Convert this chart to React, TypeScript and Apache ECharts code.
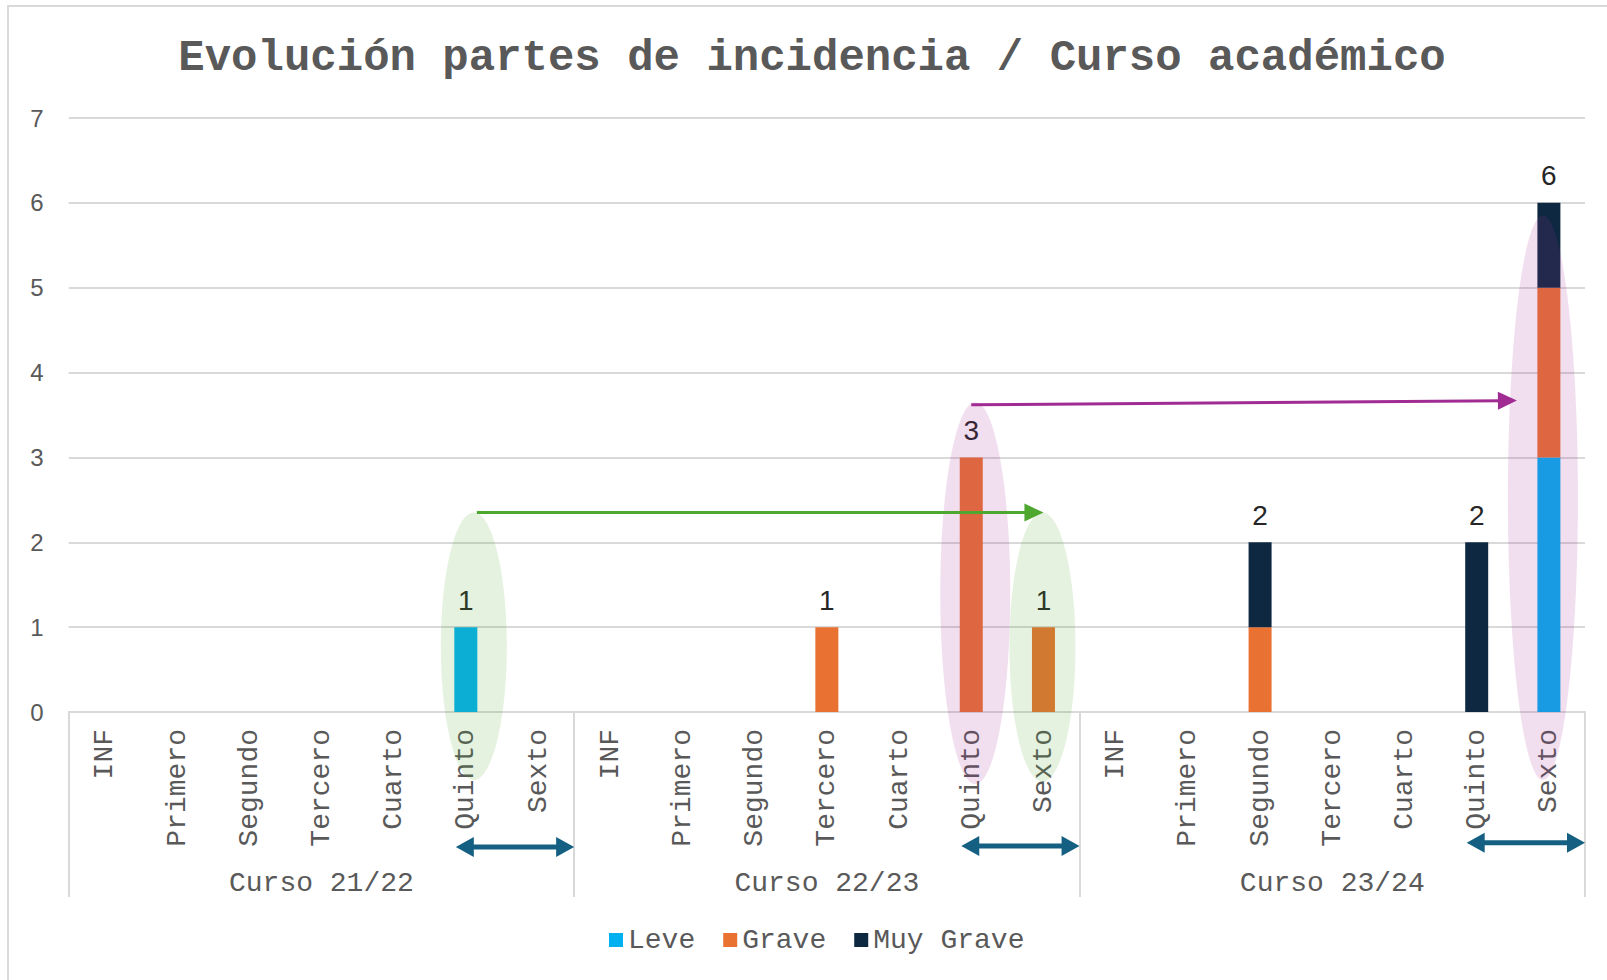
import React, { useEffect, useRef } from "react";
import * as echarts from "echarts";

// ---- data ----
const courses = ["Curso 21/22", "Curso 22/23", "Curso 23/24"];
const levels = ["INF", "Primero", "Segundo", "Tercero", "Cuarto", "Quinto", "Sexto"];
const categories = courses.flatMap(() => levels);

const leve = [0, 0, 0, 0, 0, 1, 0, 0, 0, 0, 0, 0, 0, 0, 0, 0, 0, 0, 0, 0, 3];
const grave = [0, 0, 0, 0, 0, 0, 0, 0, 0, 0, 1, 0, 3, 1, 0, 0, 1, 0, 0, 0, 2];
const muyGrave = [0, 0, 0, 0, 0, 0, 0, 0, 0, 0, 0, 0, 0, 0, 0, 0, 1, 0, 0, 2, 1];
const seriesNames = ["Leve", "Grave", "Muy Grave"];
const yMax = 7;

const totals = categories.map((_, i) => leve[i] + grave[i] + muyGrave[i]);

// ---- styles ----
const MONO = "'Liberation Mono', 'Courier New', monospace";
const SANS = "'Liberation Sans Narrow', 'Liberation Sans', Arial, sans-serif";
const GREY = "#595959";
const GRID = "#D9D9D9";
const COLORS = ["#00B0F0", "#E97132", "#0E2841"];
const GREEN = "#4EA72E";
const PURPLE = "#A02B93";
const TEAL = "#156082";

export default function App() {
  const ref = useRef<HTMLDivElement>(null);

  useEffect(() => {
    const chart = echarts.init(ref.current!, null, { renderer: "svg" });
    const barW = 23;
    const mkBar = (name: string, data: number[], color: string) => ({
      name,
      type: "bar",
      stack: "s",
      barWidth: barW,
      xAxisIndex: 0,
      yAxisIndex: 0,
      data,
      itemStyle: { color },
    });

    chart.setOption({
      animation: false,
      backgroundColor: "#ffffff",
      title: {
        text: "Evolución partes de incidencia / Curso académico",
        left: 807,
        top: 31,
        textAlign: "center",
        textStyle: {
          fontFamily: MONO,
          fontWeight: "bold",
          fontSize: 44,
          color: GREY,
        },
      },
      legend: {
        data: seriesNames,
        left: 604,
        top: 921,
        icon: "rect",
        itemWidth: 14,
        itemHeight: 14,
        itemGap: 28,
        textStyle: { fontFamily: MONO, fontSize: 28, color: GREY },
      },
      grid: { left: 68.7, right: 22, top: 118, bottom: 268, containLabel: false },
      xAxis: [
        {
          type: "category",
          data: categories,
          position: "bottom",
          axisLine: { show: true, lineStyle: { color: GRID, width: 2 } },
          axisTick: { show: false },
          axisLabel: {
            interval: 0,
            rotate: 90,
            margin: 17,
            fontFamily: MONO,
            fontSize: 28,
            color: GREY,
          },
          splitLine: { show: false },
        },
        {
          type: "category",
          data: courses,
          position: "bottom",
          boundaryGap: true,
          axisLine: { show: false },
          axisTick: {
            show: true,
            length: 185,
            lineStyle: { color: GRID, width: 2 },
          },
          axisLabel: {
            interval: 0,
            margin: 157,
            fontFamily: MONO,
            fontSize: 28,
            color: GREY,
          },
          splitLine: { show: false },
        },
      ],
      yAxis: {
        type: "value",
        min: 0,
        max: yMax,
        interval: 1,
        axisLine: { show: false },
        axisTick: { show: false },
        axisLabel: { fontFamily: SANS, fontSize: 24, color: GREY, margin: 25 },
        splitLine: { lineStyle: { color: GRID, width: 2 } },
      },
      series: [
        mkBar(seriesNames[0], leve, COLORS[0]),
        mkBar(seriesNames[1], grave, COLORS[1]),
        mkBar(seriesNames[2], muyGrave, COLORS[2]),
        {
          name: "Total",
          type: "bar",
          stack: "s",
          barWidth: barW,
          silent: true,
          data: totals.map((t) => (t > 0 ? 0 : "-")),
          itemStyle: { color: "transparent" },
          label: {
            show: true,
            position: "top",
            distance: 13,
            formatter: (p: any) => String(totals[p.dataIndex]),
            fontFamily: SANS,
            fontSize: 28,
            color: "#262626",
          },
        },
      ],
    });

    const px = (c: number, v: number, dx = 0): number[] => {
      const p = chart.convertToPixel({ xAxisIndex: 0, yAxisIndex: 0 }, [c, v]) as number[];
      return [p[0] + dx, p[1]];
    };
    const band = px(1, 0)[0] - px(0, 0)[0];

    const arrow = (
      from: number[],
      to: number[],
      color: string,
      width: number,
      len: number,
      half: number,
      both: boolean
    ) => {
      const dx = to[0] - from[0];
      const dy = to[1] - from[1];
      const L = Math.sqrt(dx * dx + dy * dy);
      const ux = dx / L;
      const uy = dy / L;
      const nx = -uy;
      const ny = ux;
      const head = (tip: number[], sx: number, sy: number) => ({
        type: "polygon",
        z: 20,
        silent: true,
        shape: {
          points: [
            tip,
            [tip[0] - sx * len + nx * half, tip[1] - sy * len + ny * half],
            [tip[0] - sx * len - nx * half, tip[1] - sy * len - ny * half],
          ],
        },
        style: { fill: color },
      });
      const start = both ? [from[0] + ux * len * 0.8, from[1] + uy * len * 0.8] : from;
      const end = [to[0] - ux * len * 0.8, to[1] - uy * len * 0.8];
      const els: any[] = [
        {
          type: "line",
          z: 20,
          silent: true,
          shape: { x1: start[0], y1: start[1], x2: end[0], y2: end[1] },
          style: { stroke: color, lineWidth: width },
        },
        head(to, ux, uy),
      ];
      if (both) els.push(head(from, -ux, -uy));
      return els;
    };

    const ellipse = (cat: number, top: number, bottom: number, dx: number, rx: number, fill: string) => {
      const t = px(cat, top, dx);
      const b = px(cat, bottom, dx);
      return {
        type: "ellipse",
        z: 15,
        silent: true,
        shape: { cx: t[0], cy: (t[1] + b[1]) / 2, rx, ry: (b[1] - t[1]) / 2 },
        style: { fill },
      };
    };

    const greenFill = "rgba(78,167,46,0.15)";
    const pinkFill = "rgba(160,43,147,0.15)";

    const graphics: any[] = [
      {
        type: "rect",
        z: 0,
        silent: true,
        shape: { x: 8, y: 6, width: 1640, height: 1020 },
        style: { fill: "none", stroke: GRID, lineWidth: 2 },
      },
      ellipse(5, 2.35, -0.8, 8, 33, greenFill),
      ellipse(13, 2.35, -0.82, -1, 33, greenFill),
      ellipse(12, 3.65, -0.85, 4, 35, pinkFill),
      ellipse(20, 5.85, -0.8, -6, 35, pinkFill),
      ...arrow(px(5, 2.35, 11), px(13, 2.35, 0), GREEN, 3, 19, 9, false),
      ...arrow(px(12, 3.62, 0), px(20, 3.67, -32), PURPLE, 3, 19, 9, false),
    ];
    const dblY = [-1.59, -1.58, -1.54];
    courses.forEach((_, g) => {
      const s = g * levels.length;
      graphics.push(
        ...arrow(px(s + 5, dblY[g], -10), px(s + 6, dblY[g], band / 2), TEAL, 5, 18, 10, true)
      );
    });

    chart.setOption({ graphic: graphics });

    return () => chart.dispose();
  }, []);

  return (
    <div
      ref={ref}
      style={{ position: "fixed", left: 0, top: 0, width: 1607, height: 980, background: "#fff" }}
    />
  );
}
